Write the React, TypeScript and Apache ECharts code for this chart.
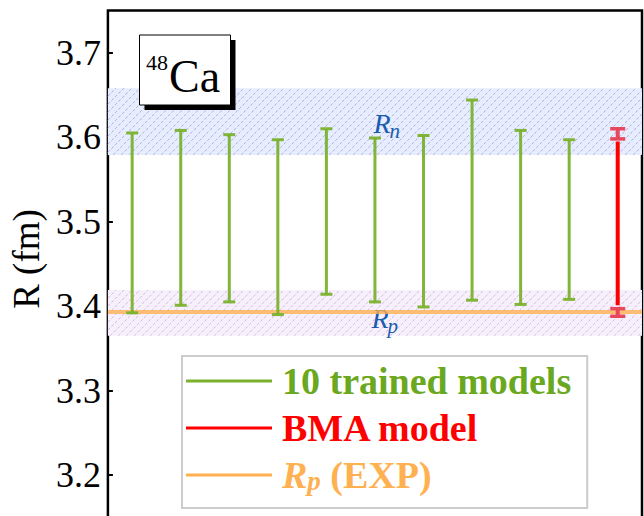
import React, { useEffect, useRef } from 'react';
import * as echarts from 'echarts';

// ---- data ----
const modelIndex = [1, 2, 3, 4, 5, 6, 7, 8, 9, 10];
const modelLow = [3.392, 3.401, 3.405, 3.390, 3.414, 3.405, 3.399, 3.407, 3.402, 3.408];
const modelHigh = [3.605, 3.608, 3.603, 3.597, 3.610, 3.599, 3.602, 3.644, 3.608, 3.597];
const bmaIndex = [11];
const bmaRange = [3.401, 3.595];
const bmaLowEnd = [3.388, 3.397];
const bmaHighEnd = [3.598, 3.610];
const rpExp = 3.393;
const bandSub = ['n', 'p'];
const bandLow = [3.579, 3.365];
const bandHigh = [3.658, 3.419];
const bandLabelX = [5.97, 5.93];
const bandLabelY = [3.6163, 3.3856];
const xRange = [0.5, 11.5];
const yRange = [3.1, 3.75];
const yStep = 0.1;
const seriesNames = ['10 trained models', 'BMA model', 'Rp (EXP)'];

const FONT = "'Liberation Serif', 'Times New Roman', serif";
const GREEN = '#7ab22e';
const GREEN_TXT = '#6aa820';
const RED = '#ff0000';
const PINK = '#e8485c';
const ORANGE = '#ffb050';
const bandFill = ['#e6edfc', '#f6f0fb'];
const bandHatch = ['#b8a8ee', '#dcb2ec'];
const LABEL_BLUE = '#1a5bb0';

export default function App() {
  const ref = useRef<HTMLDivElement>(null);
  useEffect(() => {
    if (!ref.current) return;
    const chart = echarts.init(ref.current, null, { renderer: 'svg' });

    const bandData = bandLow.map((lo, i) => [bandLabelX[i], lo, bandHigh[i], bandLabelY[i]]);
    const modelData = modelIndex.map((x, i) => [x, modelLow[i], modelHigh[i]]);
    const bmaData = [[bmaIndex[0], bmaRange[0], bmaRange[1], bmaLowEnd[0], bmaLowEnd[1], bmaHighEnd[0], bmaHighEnd[1]]];

    const line = (x1: number, y1: number, x2: number, y2: number, stroke: string, lineWidth: number, extra: any = {}) => ({
      type: 'line',
      shape: { x1, y1, x2, y2 },
      style: { stroke, lineWidth, ...extra },
    });

    const icon = 'path://M0,0h86v3h-86z M91,0v3';

    const option: any = {
      animation: false,
      backgroundColor: '#fff',
      grid: {
        left: 107,
        right: 2,
        top: 10.5,
        height: 549,
        show: true,
        borderColor: '#000',
        borderWidth: 2.5,
        backgroundColor: 'transparent',
      },
      xAxis: {
        type: 'value',
        min: xRange[0],
        max: xRange[1],
        show: false,
      },
      yAxis: {
        type: 'value',
        min: yRange[0],
        max: yRange[1],
        interval: yStep,
        name: 'R (fm)',
        nameLocation: 'middle',
        nameGap: 58,
        nameTextStyle: { fontFamily: FONT, fontSize: 37, color: '#000', padding: [0, 0, 0, 52] },
        axisLine: { show: false },
        axisTick: { show: true, inside: true, length: 5, lineStyle: { color: '#000', width: 2 } },
        axisLabel: {
          fontFamily: FONT,
          fontSize: 36,
          color: '#000',
          margin: 7,
          showMaxLabel: false,
          showMinLabel: false,
          formatter: (v: number) => (Math.abs(v * 10 - Math.round(v * 10)) < 1e-6 ? v.toFixed(1) : ''),
        },
        splitLine: { show: false },
      },
      legend: {
        orient: 'vertical',
        left: 182,
        top: 356,
        padding: [6, 16, 14, 4],
        itemGap: 9,
        itemWidth: 91,
        itemHeight: 3,
        borderColor: '#cccccc',
        borderWidth: 2,
        borderRadius: 0,
        backgroundColor: '#fff',
        selectedMode: false,
        textStyle: { fontFamily: FONT, fontSize: 38, fontWeight: 'bold', lineHeight: 38 },
        formatter: (name: string) => (name === seriesNames[2] ? '{i|R}{s|p}{t| (EXP)}' : name),
        data: [
          { name: seriesNames[0], icon, itemStyle: { color: GREEN }, textStyle: { color: GREEN_TXT } },
          { name: seriesNames[1], icon, itemStyle: { color: RED }, textStyle: { color: RED } },
          {
            name: seriesNames[2],
            icon,
            itemStyle: { color: ORANGE },
            textStyle: {
              color: ORANGE,
              rich: {
                i: { fontFamily: FONT, fontSize: 38, fontWeight: 'bold', fontStyle: 'italic', color: ORANGE, lineHeight: 38, verticalAlign: 'top' },
                s: { fontFamily: FONT, fontSize: 27, fontWeight: 'bold', fontStyle: 'italic', color: ORANGE, lineHeight: 22, verticalAlign: 'bottom' },
                t: { fontFamily: FONT, fontSize: 38, fontWeight: 'bold', color: ORANGE, lineHeight: 38, verticalAlign: 'top' },
              },
            },
          },
        ],
      },
      series: [
        {
          type: 'custom',
          name: 'bands',
          z: 1,
          silent: true,
          encode: { x: 0, y: [1, 2] },
          data: bandData,
          renderItem: (params: any, api: any) => {
            const i = params.dataIndex;
            const lo = api.value(1);
            const hi = api.value(2);
            const tl = api.coord([xRange[0], hi]);
            const br = api.coord([xRange[1], lo]);
            const x0 = tl[0], y0 = tl[1], x1 = br[0], y1 = br[1];
            const h = y1 - y0;
            const children: any[] = [
              { type: 'rect', shape: { x: x0, y: y0, width: x1 - x0, height: h }, style: { fill: bandFill[i] } },
            ];
            for (let c = x0 - h; c < x1; c += 8) {
              let sx = c, sy = y1, ex = c + h, ey = y0;
              if (sx < x0) { sy = y1 - (x0 - sx); sx = x0; }
              if (ex > x1) { ey = y0 + (ex - x1); ex = x1; }
              if (ex <= sx) continue;
              children.push(line(sx, sy, ex, ey, bandHatch[i], 1, { lineDash: [3, 2] }));
            }
            const lp = api.coord([api.value(0), api.value(3)]);
            children.push({
              type: 'text', x: lp[0], y: lp[1], z2: 10,
              style: { text: 'R', fontFamily: FONT, fontSize: 28, fontStyle: 'italic', fill: LABEL_BLUE, align: 'left', verticalAlign: 'middle' },
            });
            children.push({
              type: 'text', x: lp[0] + 16, y: lp[1] + 8, z2: 10,
              style: { text: bandSub[i], fontFamily: FONT, fontSize: 21, fontStyle: 'italic', fill: LABEL_BLUE, align: 'left', verticalAlign: 'middle' },
            });
            return { type: 'group', children };
          },
        },
        {
          type: 'line',
          name: seriesNames[2],
          z: 2,
          silent: true,
          symbol: 'none',
          data: [[xRange[0], rpExp], [xRange[1], rpExp]],
          itemStyle: { color: ORANGE },
          lineStyle: { color: ORANGE, width: 4, opacity: 0.8 },
        },
        {
          type: 'custom',
          name: seriesNames[0],
          z: 3,
          silent: true,
          itemStyle: { color: GREEN },
          encode: { x: 0, y: [1, 2] },
          data: modelData,
          renderItem: (params: any, api: any) => {
            const x = api.value(0);
            const pLo = api.coord([x, api.value(1)]);
            const pHi = api.coord([x, api.value(2)]);
            const cap = 6;
            const st = { opacity: 0.95 };
            return {
              type: 'group',
              children: [
                line(pLo[0], pLo[1], pHi[0], pHi[1], GREEN, 3, st),
                line(pLo[0] - cap, pLo[1], pLo[0] + cap, pLo[1], GREEN, 3, st),
                line(pHi[0] - cap, pHi[1], pHi[0] + cap, pHi[1], GREEN, 3, st),
              ],
            };
          },
        },
        {
          type: 'custom',
          name: seriesNames[1],
          z: 4,
          silent: true,
          itemStyle: { color: RED },
          encode: { x: 0, y: [1, 2, 3, 4, 5, 6] },
          data: bmaData,
          renderItem: (params: any, api: any) => {
            const x = api.value(0);
            const a = api.coord([x, api.value(1)]);
            const b = api.coord([x, api.value(2)]);
            const l0 = api.coord([x, api.value(3)]);
            const l1 = api.coord([x, api.value(4)]);
            const h0 = api.coord([x, api.value(5)]);
            const h1 = api.coord([x, api.value(6)]);
            const cap = 7.5;
            const ibar = (p: number[], q: number[]) => [
              line(p[0], p[1], q[0], q[1], PINK, 4),
              line(p[0] - cap, p[1], p[0] + cap, p[1], PINK, 3.5),
              line(q[0] - cap, q[1], q[0] + cap, q[1], PINK, 3.5),
            ];
            return {
              type: 'group',
              children: [line(a[0], a[1], b[0], b[1], RED, 4), ...ibar(l0, l1), ...ibar(h0, h1)],
            };
          },
        },
      ],
      graphic: [
        { type: 'rect', z: 100, shape: { x: 144.5, y: 40, width: 91, height: 70 }, style: { fill: '#000' } },
        { type: 'rect', z: 101, shape: { x: 139.5, y: 35, width: 91, height: 70 }, style: { fill: '#fff', stroke: '#000', lineWidth: 1 } },
        { type: 'text', z: 102, x: 146, y: 62, style: { text: '48', fontFamily: FONT, fontSize: 22, fill: '#000', align: 'left', verticalAlign: 'middle' } },
        { type: 'text', z: 102, x: 169, y: 76, style: { text: 'Ca', fontFamily: FONT, fontSize: 46, fill: '#000', align: 'left', verticalAlign: 'middle' } },
      ],
    };

    chart.setOption(option);
    return () => chart.dispose();
  }, []);

  return (
    <div style={{ position: 'fixed', left: 0, top: 0, width: 644, height: 516, overflow: 'hidden', background: '#fff' }}>
      <div ref={ref} style={{ width: 644, height: 570 }} />
    </div>
  );
}
